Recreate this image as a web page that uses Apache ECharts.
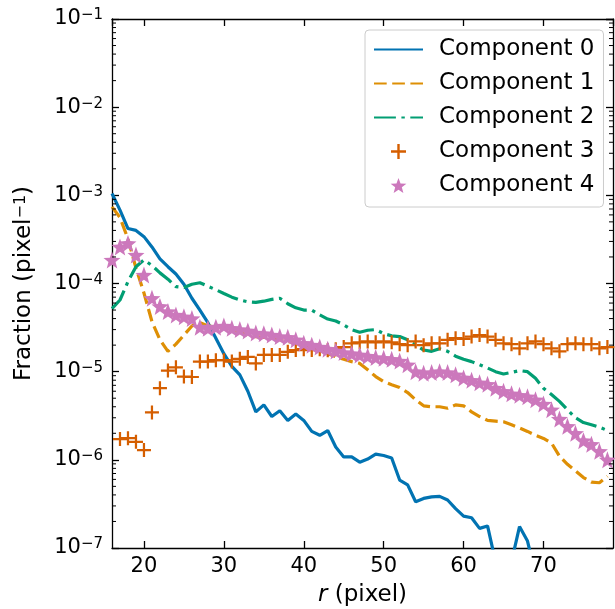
<!DOCTYPE html>
<html><head><meta charset="utf-8">
<script src="https://cdn.jsdelivr.net/npm/echarts@6/dist/echarts.min.js"></script>
<style>html,body{margin:0;padding:0;background:#fff}#c{width:615px;height:609px}</style>
</head><body><div id="c"></div>
<script>
const rValues = [16,17,18,19,20,21,22,23,24,25,26,27,28,29,30,31,32,33,34,35,36,37,38,39,40,41,42,43,44,45,46,47,48,49,50,51,52,53,54,55,56,57,58,59,60,61,62,63,64,65,66,67,68,69,70,71,72,73,74,75,76,77,78];

const component0 = [1.05e-3,6.8e-4,4.2e-4,4.0e-4,3.4e-4,2.6e-4,1.9e-4,1.55e-4,1.28e-4,9.8e-5,
  6.8e-5,5.0e-5,3.6e-5,2.4e-5,1.6e-5,1.15e-5,9.2e-6,6.0e-6,3.5e-6,4.2e-6,
  3.1e-6,3.6e-6,2.8e-6,3.3e-6,2.8e-6,2.1e-6,1.9e-6,2.15e-6,1.4e-6,1.08e-6,
  1.08e-6,9.4e-7,1.02e-6,1.16e-6,1.12e-6,1.05e-6,5.9e-7,5.2e-7,3.35e-7,3.65e-7,
  3.8e-7,3.85e-7,3.5e-7,2.8e-7,2.3e-7,2.2e-7,1.67e-7,1.78e-7,7e-8,4e-8,
  7e-8,1.75e-7,1.2e-7,5e-8,4e-8,3e-8,3e-8,2e-8,2e-8,2e-8,2e-8,2e-8,2e-8];

const component1 = [7.4e-4,5.6e-4,3.2e-4,1.5e-4,7.8e-5,3.7e-5,2.3e-5,1.7e-5,2.05e-5,2.6e-5,
  3.3e-5,3.6e-5,3.3e-5,3.2e-5,3.2e-5,3.0e-5,2.8e-5,2.6e-5,2.5e-5,2.45e-5,
  2.4e-5,2.3e-5,2.2e-5,2.1e-5,2.0e-5,1.9e-5,1.75e-5,1.6e-5,1.48e-5,1.38e-5,
  1.3e-5,1.24e-5,1.05e-5,8.8e-6,7.7e-6,7.1e-6,6.6e-6,5.8e-6,4.8e-6,4.1e-6,
  4.0e-6,4.0e-6,3.85e-6,4.2e-6,4.1e-6,3.5e-6,3.1e-6,2.8e-6,2.75e-6,2.7e-6,
  2.5e-6,2.3e-6,2.1e-6,1.9e-6,1.75e-6,1.55e-6,1.1e-6,8.9e-7,7.5e-7,6.3e-7,
  5.6e-7,5.5e-7,6.5e-7];

const component2 = [5.2e-5,6.5e-5,1.05e-4,1.55e-4,1.85e-4,1.6e-4,1.32e-4,1.12e-4,9.2e-5,9.0e-5,
  9.8e-5,1.02e-4,9.3e-5,8.5e-5,7.7e-5,7.0e-5,6.5e-5,6.2e-5,6.1e-5,6.3e-5,
  6.6e-5,6.8e-5,5.9e-5,5.3e-5,5.0e-5,5.0e-5,4.4e-5,3.95e-5,3.75e-5,3.4e-5,
  3.0e-5,2.8e-5,2.95e-5,3.0e-5,2.7e-5,2.55e-5,2.5e-5,2.3e-5,2.0e-5,1.76e-5,
  1.7e-5,1.82e-5,1.7e-5,1.5e-5,1.38e-5,1.3e-5,1.2e-5,1.1e-5,1.0e-5,9.4e-6,
  9.8e-6,1.03e-5,1.0e-5,8.4e-6,6.5e-6,5.5e-6,4.6e-6,3.7e-6,3.0e-6,2.65e-6,
  2.5e-6,2.35e-6,2.15e-6];

const component3 = [null,1.72e-6,1.76e-6,1.6e-6,1.29e-6,3.45e-6,6.5e-6,1.03e-5,1.12e-5,8.8e-6,
  8.7e-6,1.3e-5,1.3e-5,1.35e-5,1.35e-5,1.3e-5,1.4e-5,1.47e-5,1.24e-5,1.55e-5,
  1.55e-5,1.55e-5,1.68e-5,1.76e-5,1.8e-5,1.76e-5,1.8e-5,1.75e-5,1.8e-5,1.9e-5,
  2.1e-5,2.15e-5,2.2e-5,2.15e-5,2.2e-5,2.15e-5,2.05e-5,2.0e-5,2.2e-5,2.0e-5,
  2.1e-5,2.1e-5,2.3e-5,2.4e-5,2.35e-5,2.5e-5,2.6e-5,2.5e-5,2.3e-5,2.1e-5,
  2.05e-5,1.84e-5,2.1e-5,2.2e-5,2.05e-5,1.84e-5,1.7e-5,2.05e-5,2.1e-5,2.05e-5,
  2.05e-5,1.84e-5,1.9e-5];

const component4 = [1.85e-4,2.6e-4,2.85e-4,2.1e-4,1.25e-4,6.8e-5,5.5e-5,4.8e-5,4.4e-5,4.2e-5,
  4.0e-5,3.2e-5,3.1e-5,3.2e-5,3.3e-5,3.1e-5,3.0e-5,2.9e-5,2.75e-5,2.7e-5,
  2.6e-5,2.5e-5,2.45e-5,2.3e-5,2.1e-5,2.0e-5,1.9e-5,1.8e-5,1.72e-5,1.65e-5,
  1.6e-5,1.55e-5,1.5e-5,1.45e-5,1.42e-5,1.38e-5,1.32e-5,1.2e-5,1.0e-5,9.6e-6,
  9.8e-6,1.0e-5,9.8e-6,9.2e-6,8.5e-6,8.0e-6,7.5e-6,7.2e-6,6.5e-6,6.0e-6,
  5.6e-6,5.4e-6,5.2e-6,4.8e-6,4.3e-6,3.7e-6,2.9e-6,2.4e-6,2.0e-6,1.65e-6,
  1.5e-6,1.25e-6,1.0e-6];

const seriesNames = ['Component 0','Component 1','Component 2','Component 3','Component 4'];
const xTickLabels = [20,30,40,50,60,70];
const yDecades = [-7,-6,-5,-4,-3,-2,-1];

const X_MIN = 16, X_MAX = 78.7, Y_MIN = 1e-7, Y_MAX = 1e-1;
const F = 'DejaVu Sans';
const COLORS = ['#0173b2','#de8f05','#029e73','#d55e00','#cc78bc'];

function pairs(arr){ return rValues.map((r,i)=>[r, arr[i]]).filter(p=>p[1]!=null); }

// marker shapes
const plusPath = 'path://M-0.16,-1 L0.16,-1 L0.16,-0.16 L1,-0.16 L1,0.16 L0.16,0.16 L0.16,1 L-0.16,1 L-0.16,0.16 L-1,0.16 L-1,-0.16 L-0.16,-0.16 Z';
let sp = [];
for (let k=0;k<10;k++){ const rr = k%2===0?1:0.42; const a = -Math.PI/2 + k*Math.PI/5; sp.push((k?'L':'M')+(rr*Math.cos(a)).toFixed(4)+','+(rr*Math.sin(a)).toFixed(4)); }
const starPath = 'path://' + sp.join(' ') + ' Z';

// minor tick positions of log axis
const minorTickValues = [];
yDecades.slice(0,-1).forEach(e=>{ for(let m=2;m<=9;m++) minorTickValues.push(m*Math.pow(10,e)); });

const chart = echarts.init(document.getElementById('c'), null, {renderer:'canvas'});

const axisCommon = {
  axisLine:{show:true, onZero:false, lineStyle:{color:'#000', width:1.3}},
  axisTick:{show:true, inside:true, length:7, lineStyle:{color:'#000', width:1.3}},
  splitLine:{show:false}
};

const ylabelFmt = v => { const e = Math.round(Math.log10(v)); return '{b|10}{s|' + (e<0?'\u2212':'') + Math.abs(e) + '}'; };

const hiddenSym = {color:'rgba(0,0,0,0)', opacity:0, borderWidth:0};
const legendData = seriesNames.map((n,i)=> i<3 ? {name:n, itemStyle:hiddenSym} : {name:n});

const option = {
  animation:false,
  backgroundColor:'#fff',
  textStyle:{fontFamily:F},
  grid:{left:112, right:2, top:19, bottom:61, containLabel:false, outerBoundsMode:'none'},
  legend:{
    data:legendData, orient:'vertical', left:365, top:30, padding:[8,9,10,8],
    itemWidth:49, itemHeight:15, itemGap:11, selectedMode:false,
    backgroundColor:'rgba(255,255,255,0.8)', borderColor:'#cccccc', borderWidth:1, borderRadius:4,
    textStyle:{fontSize:23, fontFamily:F, color:'#000', lineHeight:23, padding:[0,0,0,11]}
  },
  xAxis:[
    Object.assign({type:'value', position:'bottom', min:X_MIN, max:X_MAX,
      name:'{i|r} (pixel)', nameLocation:'middle', nameGap:35, nameMoveOverlap:false,
      nameTextStyle:{fontSize:23, fontFamily:F, color:'#000', lineHeight:24, rich:{i:{fontStyle:'italic', fontSize:23, fontFamily:F, color:'#000', lineHeight:24}}},
      axisLabel:{show:true, margin:8, fontSize:21, fontFamily:F, color:'#000', showMinLabel:false, showMaxLabel:false,
        formatter: v => (xTickLabels.indexOf(v) >= 0 ? String(v) : '')}
    }, axisCommon),
    Object.assign({type:'value', position:'top', min:X_MIN, max:X_MAX, axisLabel:{show:false}}, axisCommon)
  ],
  yAxis:[
    Object.assign({type:'log', logBase:10, position:'left', min:Y_MIN, max:Y_MAX,
      name:'Fraction (pixel{s|\u22121})', nameLocation:'middle', nameGap:76, nameMoveOverlap:false,
      nameTextStyle:{fontSize:23, fontFamily:F, color:'#000', lineHeight:23, rich:{s:{fontSize:16, fontFamily:F, color:'#000', lineHeight:17, verticalAlign:'top'}}},
      axisLabel:{show:true, margin:9, formatter:ylabelFmt,
        rich:{b:{fontSize:21, fontFamily:F, color:'#000', lineHeight:22}, s:{fontSize:15, fontFamily:F, color:'#000', lineHeight:16, verticalAlign:'top'}}}
    }, axisCommon),
    Object.assign({type:'log', logBase:10, position:'right', min:Y_MIN, max:Y_MAX, axisLabel:{show:false}}, axisCommon)
  ],
  series:[
    {name:seriesNames[0], type:'line', data:pairs(component0), symbol:'none', showSymbol:false, clip:true,
      lineStyle:{color:COLORS[0], width:3.2, type:'solid'}, itemStyle:{color:COLORS[0]}, z:2},
    {name:seriesNames[1], type:'line', data:pairs(component1), symbol:'none', showSymbol:false, clip:true,
      lineStyle:{color:COLORS[1], width:3.2, type:[12.7,5.5]}, itemStyle:{color:COLORS[1]}, z:2},
    {name:seriesNames[2], type:'line', data:pairs(component2), symbol:'none', showSymbol:false, clip:true,
      lineStyle:{color:COLORS[2], width:3.2, type:[21.9,5.5,3.4,5.5]}, itemStyle:{color:COLORS[2]}, z:2},
    {name:seriesNames[3], type:'scatter', data:pairs(component3), symbol:plusPath, symbolSize:14, clip:true,
      itemStyle:{color:COLORS[3], opacity:1}, z:3},
    {name:seriesNames[4], type:'scatter', data:pairs(component4), symbol:starPath, symbolSize:17, clip:true,
      itemStyle:{color:COLORS[4], opacity:1}, z:4},
    {name:'minorTicks', type:'custom', silent:true, clip:false, z:10, xAxisIndex:0, yAxisIndex:0,
      data:minorTickValues.map(v=>[X_MIN, v]),
      renderItem:(params, api)=>{
        const cs = params.coordSys;
        const y = api.coord([api.value(0), api.value(1)])[1];
        return {type:'group', children:[
          {type:'line', shape:{x1:cs.x, y1:y, x2:cs.x+4, y2:y}, style:{stroke:'#000', lineWidth:1}},
          {type:'line', shape:{x1:cs.x+cs.width, y1:y, x2:cs.x+cs.width-4, y2:y}, style:{stroke:'#000', lineWidth:1}}
        ]};
      }}
  ]
};
chart.setOption(option);
</script></body></html>
